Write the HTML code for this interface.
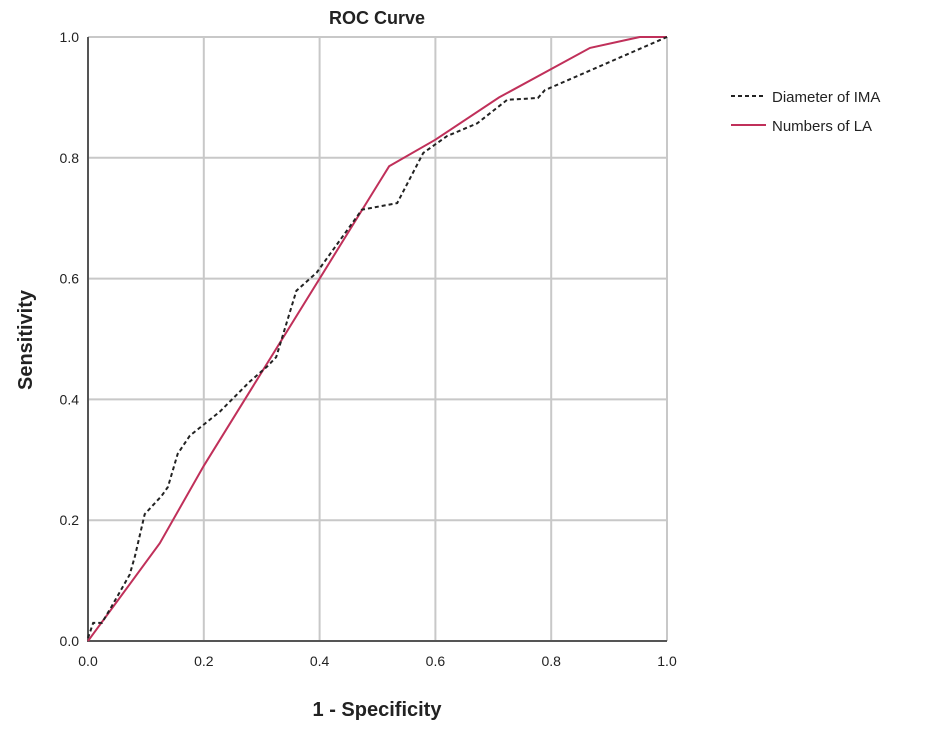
<!DOCTYPE html>
<html><head><meta charset="utf-8"><style>
body{margin:0;background:#fff;font-family:"Liberation Sans",sans-serif}
svg text{font-family:"Liberation Sans",sans-serif}
</style></head><body>
<svg width="925" height="724" viewBox="0 0 925 724">
<g id="grid"></g>
<g id="axes"></g>
<g id="series"></g>
<text x="377" y="24" text-anchor="middle" font-size="18" font-weight="bold" fill="#222">ROC Curve</text>
<text x="377" y="716" text-anchor="middle" font-size="20" font-weight="bold" fill="#222">1 - Specificity</text>
<text transform="translate(32,340) rotate(-90)" text-anchor="middle" font-size="20" font-weight="bold" fill="#222">Sensitivity</text>
<g>
<g>
<line x1="731" y1="96" x2="766" y2="96" stroke="#222" stroke-width="2" stroke-dasharray="4,3"/>
<text x="772" y="102" font-size="15" fill="#222">Diameter of IMA</text></g>
<g>
<line x1="731" y1="125" x2="766" y2="125" stroke="#c0305a" stroke-width="2"/>
<text x="772" y="131" font-size="15" fill="#222">Numbers of LA</text></g>
</g>
</svg>
<script>
const ticks=[0,0.2,0.4,0.6,0.8,1.0];
const tickLabels=["0.0","0.2","0.4","0.6","0.8","1.0"];
const imaX=[0,0.009,0.024,0.04,0.072,0.081,0.098,0.127,0.138,0.155,0.176,0.202,0.228,0.28,0.31,0.325,0.36,0.395,0.473,0.534,0.579,0.62,0.672,0.724,0.777,0.789,1];
const imaY=[0.005,0.03,0.03,0.056,0.11,0.14,0.21,0.24,0.255,0.31,0.34,0.36,0.38,0.43,0.455,0.47,0.58,0.61,0.714,0.725,0.808,0.836,0.857,0.896,0.899,0.912,1];
const laX=[0,0.124,0.2,0.52,0.6,0.71,0.867,0.953,1];
const laY=[0,0.162,0.29,0.786,0.83,0.90,0.982,1,1];
const ns="http://www.w3.org/2000/svg";
const X0=88,X1=667,Y0=641,Y1=37;
const sx=v=>X0+v*(X1-X0), sy=v=>Y0-v*(Y0-Y1);
const grid=document.getElementById('grid'),axes=document.getElementById('axes'),series=document.getElementById('series');
function mk(t,a,p){const e=document.createElementNS(ns,t);for(const k in a)e.setAttribute(k,a[k]);p.appendChild(e);return e;}
ticks.forEach((t,i)=>{
 const gv=mk('line',{x1:sx(t),x2:sx(t),y1:Y1,y2:Y0,stroke:'#c8c8c8','stroke-width':2},grid);
 
 
 const gh=mk('line',{x1:X0,x2:X1,y1:sy(t),y2:sy(t),stroke:'#c8c8c8','stroke-width':2},grid);
 
 
 const tx=mk('text',{x:sx(t),y:666,'text-anchor':'middle','font-size':14,fill:'#222'},axes);
 tx.textContent=tickLabels[i];
 
 
 const ty=mk('text',{x:79,y:sy(t)+5,'text-anchor':'end','font-size':14,fill:'#222'},axes);
 ty.textContent=tickLabels[i];
 
 
});
const ax=mk('path',{d:`M${X0},${Y1} V${Y0} H${X1}`,fill:'none',stroke:'#555','stroke-width':2},axes);


const pts=(xs,ys)=>xs.map((x,i)=>sx(x).toFixed(1)+','+sy(ys[i]).toFixed(1)).join(' ');
const la=mk('polyline',{points:pts(laX,laY),fill:'none',stroke:'#c0305a','stroke-width':2},series);


const ima=mk('polyline',{points:pts(imaX,imaY),fill:'none',stroke:'#222','stroke-width':2,'stroke-dasharray':'4,3'},series);


</script>
</body></html>
